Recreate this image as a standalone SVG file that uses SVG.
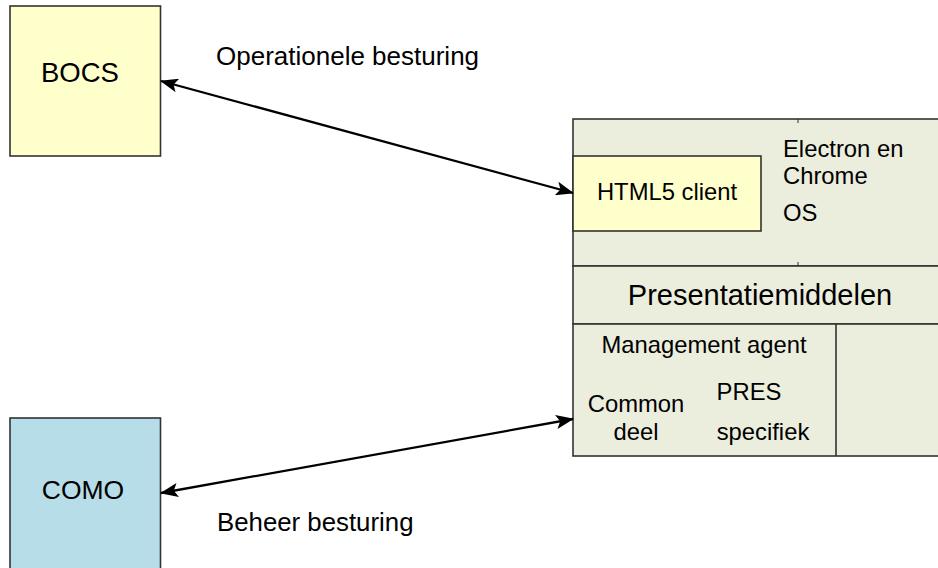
<svg xmlns="http://www.w3.org/2000/svg" width="938" height="568" viewBox="0 0 938 568">
<style>
.box{stroke:#333;stroke-width:1.6}
.yel{fill:#FFFFCC}
.blu{fill:#B7DDE8}
.grn{fill:#EBEEDD}
text{font-family:"Liberation Sans",Arial,sans-serif;fill:#000}
.conn{stroke:#000;stroke-width:2.3;fill:none}
</style>
<defs>
<marker id="ah" viewBox="0 0 18 14" refX="17" refY="7" markerWidth="18" markerHeight="14" markerUnits="userSpaceOnUse" orient="auto-start-reverse">
<path d="M0,0 L18,7 L0,14 L4,7 Z" fill="#000"/>
</marker>
</defs>
<rect width="938" height="568" fill="#fff"/>
<g id="bocs">
<rect class="box yel" x="10" y="6" width="150.5" height="150"/>
<text x="80" y="82" font-size="27.5" text-anchor="middle">BOCS</text>
</g>
<g id="como">
<rect class="box blu" x="10" y="418" width="150.5" height="160"/>
<text x="83" y="499" font-size="26.5" text-anchor="middle">COMO</text>
</g>
<g id="pres-platform">
<rect class="box grn" x="573" y="119" width="380" height="147"/>
<line x1="798" y1="119" x2="798" y2="123" stroke="#333" stroke-width="1"/>
<line x1="798" y1="262" x2="798" y2="266" stroke="#333" stroke-width="1"/>
<text x="783" y="157" font-size="23.8">Electron en</text>
<text x="783" y="184" font-size="23.8">Chrome</text>
<text x="783" y="221" font-size="23.8">OS</text>
</g>
<g id="html5-client">
<rect class="box yel" x="573" y="156" width="188" height="75"/>
<text x="667" y="200" font-size="23.8" text-anchor="middle">HTML5 client</text>
</g>
<g id="presentatiemiddelen">
<rect class="box grn" x="573" y="266" width="380" height="58"/>
<text x="760" y="305" font-size="29" text-anchor="middle">Presentatiemiddelen</text>
</g>
<g id="management-agent">
<rect class="box grn" x="573" y="324" width="380" height="132"/>
<line x1="836" y1="324" x2="836" y2="456" stroke="#333" stroke-width="1.6"/>
<text x="704" y="353" font-size="23.8" text-anchor="middle">Management agent</text>
<text x="636" y="412" font-size="23.8" text-anchor="middle">Common</text>
<text x="636" y="440" font-size="23.8" text-anchor="middle">deel</text>
<text x="749" y="400" font-size="23.8" text-anchor="middle">PRES</text>
<text x="763" y="440" font-size="23.8" text-anchor="middle">specifiek</text>
</g>
<g id="connectors">
<line class="conn" x1="161" y1="81" x2="573" y2="193" marker-start="url(#ah)" marker-end="url(#ah)"/>
<line class="conn" x1="161" y1="493" x2="573" y2="419" marker-start="url(#ah)" marker-end="url(#ah)"/>
</g>
<g id="labels">
<text x="216" y="65" font-size="26">Operationele besturing</text>
<text x="217" y="531" font-size="25.8">Beheer besturing</text>
</g>
</svg>
